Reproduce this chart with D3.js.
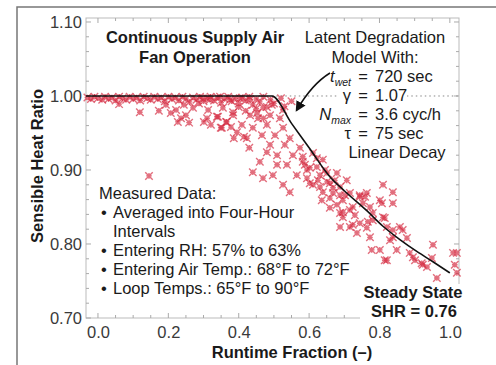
<!DOCTYPE html>
<html>
<head>
<meta charset="utf-8">
<script src="https://cdn.jsdelivr.net/npm/d3@7"></script>
<style>
  body { margin: 0; background: #fff; }
  svg { font-family: "Liberation Sans", Arial, sans-serif; }
</style>
</head>
<body>
<svg id="chart" width="496" height="365"></svg>
<script>
// tick labels on both axes
const xTickValues = [0.0, 0.2, 0.4, 0.6, 0.8, 1.0];
const yTickValues = [0.70, 0.80, 0.90, 1.00, 1.10];

// latent degradation model (runtime fraction -> SHR)
const modelRTF = [-0.034, 0.494, 0.55, 0.60, 0.659, 0.70, 0.764, 0.81, 0.858, 0.906, 0.952, 1.0];
const modelSHR = [1.0, 1.0, 0.963, 0.930, 0.891, 0.872, 0.845, 0.824, 0.806, 0.790, 0.776, 0.761];

// measured four-hour averages, [runtime fraction, SHR]
const measured = [
  // band along SHR = 1.00
  [-0.03,0.998],[-0.02,0.996],[-0.01,0.999],[0.0,0.997],[0.012,0.995],[0.02,0.999],[0.03,0.996],
  [0.04,0.998],[0.05,0.994],[0.06,0.999],[0.07,0.997],[0.08,0.995],[0.09,0.999],[0.1,0.996],
  [0.11,0.998],[0.12,0.994],[0.13,0.999],[0.14,0.997],[0.15,0.995],[0.16,0.999],[0.17,0.996],
  [0.18,0.998],[0.19,0.993],[0.2,0.999],[0.21,0.996],[0.22,0.998],[0.23,0.994],[0.24,0.999],
  [0.25,0.996],[0.26,0.992],[0.27,0.998],[0.28,0.995],[0.29,0.999],[0.3,0.993],[0.31,0.997],
  [0.32,0.999],[0.33,0.994],[0.34,0.998],[0.35,0.991],[0.36,0.996],[0.37,0.999],[0.38,0.993],
  [0.39,0.997],[0.40,0.990],[0.41,0.998],[0.42,0.994],[0.43,0.999],[0.44,0.988],[0.45,0.996],
  [0.46,0.992],[0.47,0.999],[0.48,0.985],[0.49,0.995],[0.50,0.990],[0.52,0.997],[0.53,0.986],[0.55,0.993],
  // scattered just below the band
  [0.06,0.989],[0.119,0.978],[0.173,0.980],[0.145,0.892],[0.193,0.988],[0.207,0.977],[0.222,0.981],
  [0.236,0.970],[0.25,0.974],[0.227,0.965],[0.244,0.988],[0.27,0.984],[0.287,0.99],[0.301,0.965],
  [0.321,0.961],[0.341,0.972],[0.349,0.957],[0.364,0.965],[0.378,0.958],[0.386,0.943],[0.384,0.978],
  [0.355,0.984],[0.313,0.981],[0.259,0.964],
  // main cloud, upper part
  [0.298,0.997],[0.318,0.995],[0.347,0.999],[0.375,0.995],[0.403,0.997],[0.432,0.995],[0.310,0.970],
  [0.338,0.972],[0.352,0.957],[0.366,0.965],[0.384,0.974],[0.395,0.951],[0.409,0.961],[0.423,0.943],
  [0.432,0.974],[0.440,0.957],[0.455,0.970],[0.466,0.947],[0.469,0.984],[0.480,0.961],[0.489,0.934],
  [0.494,0.988],[0.503,0.947],[0.509,0.920],[0.517,0.970],[0.526,0.957],[0.531,0.934],[0.537,0.907],
  [0.545,0.943],[0.554,0.920],[0.565,0.893],[0.574,0.930],[0.582,0.911],[0.594,0.889],[0.602,0.903],
  [0.611,0.880],[0.622,0.916],[0.631,0.893],[0.639,0.870],[0.651,0.884],[0.659,0.862],[0.668,0.876],
  [0.679,0.853],[0.688,0.866],[0.696,0.843],[0.440,0.897],[0.469,0.889],[0.497,0.893],[0.526,0.880],
  [0.545,0.870],[0.509,0.907],[0.460,0.911],[0.480,0.924],[0.526,0.981],[0.489,0.974],[0.452,0.977],
  [0.40,0.985],[0.42,0.980],[0.45,0.983],[0.47,0.970],[0.43,0.930],[0.415,0.945],
  // main cloud, lower part
  [0.582,0.918],[0.611,0.923],[0.594,0.900],[0.622,0.904],[0.639,0.914],[0.651,0.896],[0.602,0.882],
  [0.631,0.877],[0.659,0.882],[0.668,0.869],[0.679,0.896],[0.688,0.877],[0.696,0.859],[0.707,0.886],
  [0.716,0.869],[0.724,0.850],[0.744,0.864],[0.764,0.869],[0.753,0.855],[0.688,0.842],[0.716,0.846],
  [0.773,0.850],[0.781,0.842],[0.801,0.859],[0.810,0.880],[0.838,0.870],[0.688,0.823],[0.716,0.823],
  [0.736,0.815],[0.744,0.828],[0.764,0.822],[0.773,0.809],[0.781,0.832],[0.810,0.836],[0.821,0.823],
  [0.778,0.792],[0.801,0.792],[0.821,0.778],[0.830,0.805],[0.838,0.819],[0.849,0.792],[0.858,0.823],
  [0.866,0.819],[0.878,0.808],[0.838,0.855],[0.886,0.788],[0.901,0.778],[0.935,0.769],[0.949,0.781],
  [0.952,0.799],[0.963,0.754],[1.020,0.788],[1.014,0.772],[1.020,0.761],[0.920,0.774],
  [0.807,0.855],[0.744,0.866],[0.759,0.864],[0.696,0.836],[0.724,0.826],[0.767,0.830],[0.815,0.835],
  [0.815,0.778],[0.838,0.809],[0.895,0.782],[0.923,0.772],[1.009,0.788],
  [0.588,0.907],[0.625,0.886],[0.645,0.900],[0.673,0.886],[0.702,0.866],[0.730,0.839],[0.659,0.849],[0.636,0.859]
];

const modelLines = [
  {left: ['t', 'wet'], italic: true, right: '720 sec'},
  {left: ['γ', ''], italic: false, right: '1.07'},
  {left: ['N', 'max'], italic: true, right: '3.6 cyc/h'},
  {left: ['τ', ''], italic: false, right: '75 sec'}
];

const notes = [
  {bullet: false, text: 'Measured Data:'},
  {bullet: true, text: 'Averaged into Four-Hour'},
  {bullet: false, text: 'Intervals', indent: true},
  {bullet: true, text: 'Entering RH: 57% to 63%'},
  {bullet: true, text: 'Entering Air Temp.: 68°F to 72°F'},
  {bullet: true, text: 'Loop Temps.: 65°F to 90°F'}
];

const svg = d3.select('#chart');
const margin = {left: 86, top: 18, right: 37, bottom: 47};
const width = 496 - margin.left - margin.right;
const height = 365 - margin.top - margin.bottom;
const fs = 16.5;

// outer figure frame (clipped by the picture)
svg.append('path')
  .attr('d', 'M17,365 L17,7 L496,7')
  .attr('fill', 'none')
  .attr('stroke', '#777')
  .attr('stroke-width', 1.5);

const g = svg.append('g').attr('transform', `translate(${margin.left},${margin.top})`);

const x = d3.scaleLinear().domain([-0.034, 1.026]).range([0, width]);
const y = d3.scaleLinear().domain([0.70, 1.1054]).range([height, 0]);

// plot frame
g.append('rect')
  .attr('width', width).attr('height', height)
  .attr('fill', 'none').attr('stroke', '#bbb');

// minor ticks, pointing inward on all four sides
const tickCol = '#aaa';
const xMinor = d3.range(0, 1.0001, 0.05);
const yMinor = d3.range(0.70, 1.1001, 0.02);
g.append('g').selectAll('line.xb').data(xMinor).join('line')
  .attr('x1', d => x(d)).attr('x2', d => x(d))
  .attr('y1', height).attr('y2', (d, i) => height - (i % 4 === 0 ? 5 : 3))
  .attr('stroke', tickCol);
g.append('g').selectAll('line.xt').data(xMinor).join('line')
  .attr('x1', d => x(d)).attr('x2', d => x(d))
  .attr('y1', 0).attr('y2', (d, i) => (i % 4 === 0 ? 5 : 3))
  .attr('stroke', tickCol);
g.append('g').selectAll('line.yl').data(yMinor).join('line')
  .attr('y1', d => y(d)).attr('y2', d => y(d))
  .attr('x1', 0).attr('x2', (d, i) => (i % 5 === 0 ? 5 : 3))
  .attr('stroke', tickCol);
g.append('g').selectAll('line.yr').data(yMinor).join('line')
  .attr('y1', d => y(d)).attr('y2', d => y(d))
  .attr('x1', width).attr('x2', (d, i) => width - (i % 5 === 0 ? 5 : 3))
  .attr('stroke', tickCol);

// axis labels through d3 axes (lines hidden, frame drawn above)
const xAxis = g.append('g')
  .attr('transform', `translate(0,${height})`)
  .call(d3.axisBottom(x).tickValues(xTickValues).tickFormat(d3.format('.1f')).tickSize(0).tickPadding(8));
const yAxis = g.append('g')
  .call(d3.axisLeft(y).tickValues(yTickValues).tickFormat(d3.format('.2f')).tickSize(0).tickPadding(4));
[xAxis, yAxis].forEach(a => {
  a.select('.domain').remove();
  a.selectAll('text').attr('font-size', fs).attr('fill', '#3a3a3a')
    .attr('font-family', '"Liberation Sans", Arial, sans-serif');
});

// dotted reference at SHR = 1.00
g.append('line')
  .attr('x1', x(0.494)).attr('x2', width)
  .attr('y1', y(1.0)).attr('y2', y(1.0))
  .attr('stroke', '#888').attr('stroke-dasharray', '1.5,3');

// measured points as asterisks
const asterisk = {
  draw(ctx, size) {
    const r = Math.sqrt(size) / 2, p = r * 0.75;
    ctx.moveTo(-r, -r); ctx.lineTo(r, r);
    ctx.moveTo(-r, r); ctx.lineTo(r, -r);
    ctx.moveTo(-p, 0); ctx.lineTo(p, 0);
    ctx.moveTo(0, -p); ctx.lineTo(0, p);
  }
};
g.append('g').selectAll('path').data(measured).join('path')
  .attr('transform', d => `translate(${x(d[0])},${y(d[1])})`)
  .attr('d', d3.symbol(asterisk, 56))
  .attr('fill', 'none')
  .attr('stroke', '#d42a40')
  .attr('stroke-opacity', 0.68)
  .attr('stroke-width', 1.4);

// model curve
const model = modelRTF.map((d, i) => [d, modelSHR[i]]);
g.append('path')
  .datum(model)
  .attr('d', d3.line().x(d => x(d[0])).y(d => y(d[1])).curve(d3.curveMonotoneX))
  .attr('fill', 'none').attr('stroke', '#111').attr('stroke-width', 1.6);

// title block
const txt = (sel, tx, ty, s, o = {}) => sel.append('text')
  .attr('x', tx).attr('y', ty).attr('font-size', o.size || fs)
  .attr('font-weight', o.bold ? 'bold' : null)
  .attr('text-anchor', o.anchor || 'start')
  .attr('fill', '#1a1a1a').text(s);

txt(svg, 195, 43, 'Continuous Supply Air', {bold: true, anchor: 'middle'});
txt(svg, 195, 63, 'Fan Operation', {bold: true, anchor: 'middle'});

// model annotation
txt(svg, 375, 43, 'Latent Degradation', {anchor: 'middle'});
txt(svg, 375, 63, 'Model With:', {anchor: 'middle'});
const rowY = [82, 101, 120, 139];
svg.append('rect').attr('x', 337).attr('y', 88).attr('width', 70).attr('height', 16).attr('fill', '#fff');
modelLines.forEach((m, i) => {
  const t = svg.append('text').attr('x', 351).attr('y', rowY[i])
    .attr('font-size', fs).attr('text-anchor', 'end').attr('fill', '#1a1a1a');
  t.append('tspan').attr('font-style', m.italic ? 'italic' : null).text(m.left[0]);
  if (m.left[1]) t.append('tspan').attr('font-style', 'italic').attr('font-size', 10.5).attr('dy', 4).text(m.left[1]);
  txt(svg, 363, rowY[i], '=', {anchor: 'middle'});
  txt(svg, 375, rowY[i], m.right);
});
txt(svg, 397, 158, 'Linear Decay', {anchor: 'middle'});

// arrow from t_wet to the curve knee
svg.append('defs').append('marker')
  .attr('id', 'head').attr('viewBox', '0 0 10 10').attr('refX', 8).attr('refY', 5)
  .attr('markerWidth', 7).attr('markerHeight', 7).attr('orient', 'auto-start-reverse')
  .append('path').attr('d', 'M0,0 L10,5 L0,10 z').attr('fill', '#111');
const ax = margin.left + x(0.565), ay = margin.top + y(0.981);
const arrow = d3.path();
arrow.moveTo(330, 73);
arrow.quadraticCurveTo(312, 84, ax, ay);
svg.append('path').attr('d', arrow.toString())
  .attr('fill', 'none').attr('stroke', '#111').attr('stroke-width', 1.5)
  .attr('marker-end', 'url(#head)');

// measured-data notes
notes.forEach((n, i) => {
  const ty = 199 + i * 19;
  if (n.bullet) txt(svg, 101, ty, '•');
  txt(svg, n.bullet || n.indent ? 113 : 99, ty, n.text);
});

// steady state label, covers the frame corner
svg.append('rect').attr('x', 360).attr('y', 284).attr('width', 110).attr('height', 40).attr('fill', '#fff');
txt(svg, 413, 298, 'Steady State', {bold: true, anchor: 'middle'});
txt(svg, 414, 317, 'SHR = 0.76', {bold: true, anchor: 'middle'});

// axis titles
txt(svg, 292, 358, 'Runtime Fraction (–)', {bold: true, anchor: 'middle'});
svg.append('text')
  .attr('transform', 'translate(43,166) rotate(-90)')
  .attr('text-anchor', 'middle').attr('font-size', fs).attr('font-weight', 'bold')
  .attr('fill', '#1a1a1a').text('Sensible Heat Ratio');
</script>
</body>
</html>
